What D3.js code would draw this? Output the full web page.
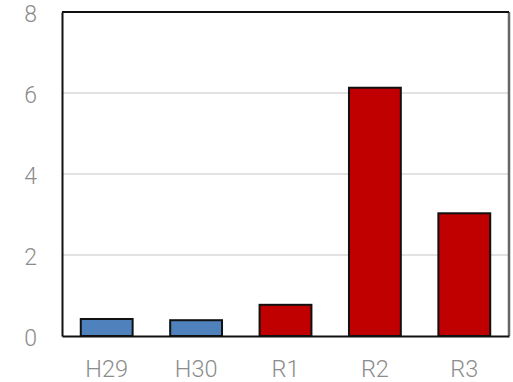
<!DOCTYPE html>
<html>
<head>
<meta charset="utf-8">
<script src="https://cdn.jsdelivr.net/npm/d3@7"></script>
<style>
  body { margin: 0; background: #fff; }
  text { font-family: Roboto, "Liberation Sans", sans-serif; font-weight: 300; fill: #8c8c8c; }
</style>
</head>
<body>
<script>
// data
var categories = ["H29", "H30", "R1", "R2", "R3"];
var values = [0.42, 0.39, 0.77, 6.13, 3.03];
var barColors = ["#4f81bd", "#4f81bd", "#c00000", "#c00000", "#c00000"];
var yTicks = [0, 2, 4, 6, 8];

// canvas
var margin = { top: 12, right: 4, bottom: 46, left: 62 },
    width = 513 - margin.left - margin.right,
    height = 382 - margin.top - margin.bottom;

var svg = d3.select("body")
    .append("svg")
    .attr("width", 513)
    .attr("height", 382)
    .append("g")
    .attr("transform", "translate(" + margin.left + "," + margin.top + ")");

var x = d3.scaleBand()
    .domain(categories)
    .range([0, width])
    .paddingInner(0.42)
    .paddingOuter(0.21);

var y = d3.scaleLinear()
    .domain([0, 8])
    .range([height, 0]);

// gridlines
svg.selectAll(".grid")
    .data(yTicks.filter(function(d) { return d > 0 && d < 8; }))
    .enter()
    .append("line")
    .attr("x1", 0)
    .attr("x2", width)
    .attr("y1", function(d) { return y(d); })
    .attr("y2", function(d) { return y(d); })
    .attr("stroke", "#d9d9d9")
    .attr("stroke-width", 1.5);

// bars
svg.selectAll(".bar")
    .data(values)
    .enter()
    .append("rect")
    .attr("x", function(d, i) { return x(categories[i]); })
    .attr("width", x.bandwidth())
    .attr("y", function(d) { return y(d); })
    .attr("height", function(d) { return height - y(d); })
    .attr("fill", function(d, i) { return barColors[i]; })
    .attr("stroke", "#111")
    .attr("stroke-width", 2);

// frame
svg.append("line").attr("x1", width).attr("x2", width).attr("y1", 0).attr("y2", height)
    .attr("stroke", "#666").attr("stroke-width", 2.5);
svg.append("line").attr("x1", 0).attr("x2", width).attr("y1", 0).attr("y2", 0)
    .attr("stroke", "#111").attr("stroke-width", 2);

// y axis
var yAxis = svg.append("g")
    .call(d3.axisLeft(y).tickValues(yTicks).tickSize(0).tickPadding(25));
yAxis.select(".domain").attr("stroke", "#111").attr("stroke-width", 2);
yAxis.selectAll("text").style("font-size", "23px").attr("fill", "#8c8c8c").attr("dy", "0.4em");

// x axis
var xAxis = svg.append("g")
    .attr("transform", "translate(0," + height + ")")
    .call(d3.axisBottom(x).tickSize(0).tickPadding(24));
xAxis.select(".domain").attr("stroke", "#111").attr("stroke-width", 2);
xAxis.selectAll("text").style("font-size", "23.5px").attr("fill", "#8c8c8c");
</script>
</body>
</html>
